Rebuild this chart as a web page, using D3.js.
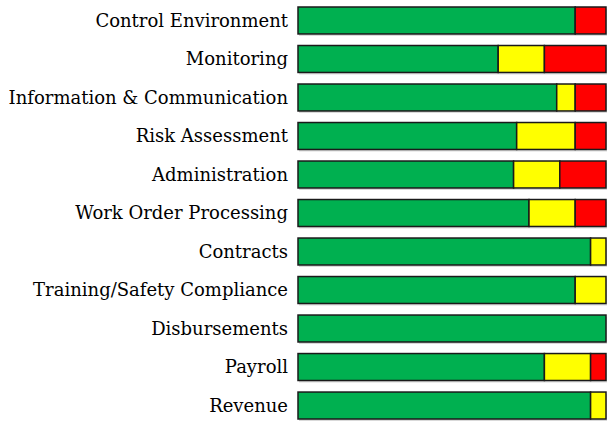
<!DOCTYPE html>
<html lang="en">
<head>
    <meta charset="UTF-8">
    <title>Control ratings</title>
    <style>
        body { margin: 0; background: #fff; }
        text { font-family: "DejaVu Serif", serif; }
    </style>
    <script src="https://cdn.jsdelivr.net/npm/d3@7"></script>
</head>
<body>
<script>
    // categories, top to bottom
    const categories = ["Control Environment", "Monitoring", "Information & Communication",
        "Risk Assessment", "Administration", "Work Order Processing", "Contracts",
        "Training/Safety Compliance", "Disbursements", "Payroll", "Revenue"];

    // share of each rating (percent)
    const green = [90, 65, 84, 71, 70, 75, 95, 90, 100, 80, 95];
    const yellow = [0, 15, 6, 19, 15, 15, 5, 10, 0, 15, 5];
    const red = [10, 20, 10, 10, 15, 10, 0, 0, 0, 5, 0];

    const keys = ["green", "yellow", "red"];
    const colors = { green: "#00b050", yellow: "#ffff00", red: "#ff0000" };

    const rows = categories.map((c, i) => ({ name: c, green: green[i], yellow: yellow[i], red: red[i] }));

    const width = 607, height = 424;
    const margin = { top: 7, right: 1, bottom: 5, left: 298 };

    const svg = d3.select("body").append("svg")
        .attr("width", width)
        .attr("height", height);

    const x = d3.scaleLinear()
        .domain([0, 100])
        .range([margin.left, width - margin.right]);

    const y = d3.scaleBand()
        .domain(categories)
        .range([margin.top, height - margin.bottom])
        .paddingInner(0.3)
        .paddingOuter(0.0);

    const series = d3.stack().keys(keys)(rows);

    // soft shadow under each bar
    svg.append("g")
        .selectAll("rect")
        .data(rows)
        .join("rect")
        .attr("x", x(0) + 1)
        .attr("y", d => y(d.name) + 2)
        .attr("width", x(100) - x(0))
        .attr("height", y.bandwidth())
        .attr("fill", "#d9d9d9");

    svg.append("g")
        .selectAll("g")
        .data(series)
        .join("g")
        .attr("fill", d => colors[d.key])
        .selectAll("rect")
        .data(d => d.filter(s => s[1] > s[0]))
        .join("rect")
        .attr("x", d => x(d[0]))
        .attr("y", d => y(d.data.name))
        .attr("width", d => x(d[1]) - x(d[0]))
        .attr("height", y.bandwidth())
        .attr("stroke", "#1a1a1a")
        .attr("stroke-width", 1.5);

    // category labels
    svg.append("g")
        .selectAll("text")
        .data(categories)
        .join("text")
        .attr("x", margin.left - 10)
        .attr("y", d => y(d) + y.bandwidth() / 2)
        .attr("dy", "0.35em")
        .attr("text-anchor", "end")
        .attr("font-size", "18px")
        .attr("fill", "#000")
        .text(d => d);
</script>
</body>
</html>
